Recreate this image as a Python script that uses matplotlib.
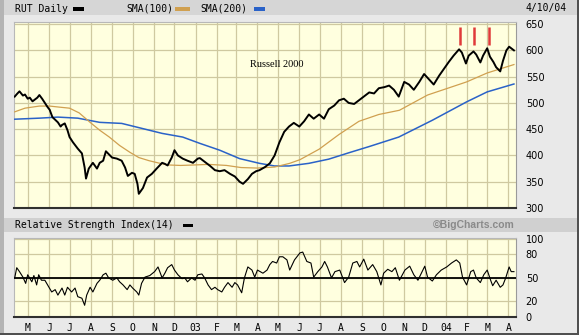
import matplotlib
matplotlib.use('Agg')
import matplotlib.pyplot as plt
import matplotlib.dates as mdates
import numpy as np
import pandas as pd
from matplotlib.patches import Rectangle

# ---------------- data ----------------
price_dates = [
    '2002-04-12', '2002-04-16', '2002-04-19', '2002-04-24', '2002-04-27', '2002-05-01', '2002-05-04',
    '2002-05-08', '2002-05-11', '2002-05-15', '2002-05-18', '2002-05-22', '2002-05-26', '2002-05-30',
    '2002-06-02', '2002-06-06', '2002-06-10', '2002-06-14', '2002-06-18', '2002-06-20', '2002-06-24',
    '2002-06-28', '2002-07-01', '2002-07-06', '2002-07-10', '2002-07-13', '2002-07-19', '2002-07-23',
    '2002-07-25', '2002-07-29', '2002-08-04', '2002-08-10', '2002-08-14', '2002-08-19', '2002-08-23',
    '2002-09-01', '2002-09-08', '2002-09-15', '2002-09-20', '2002-09-24', '2002-09-30', '2002-10-04',
    '2002-10-08', '2002-10-10', '2002-10-16', '2002-10-22', '2002-10-29', '2002-11-05', '2002-11-13',
    '2002-11-17', '2002-11-21', '2002-11-27', '2002-12-01', '2002-12-06', '2002-12-13', '2002-12-20',
    '2002-12-28', '2003-01-04', '2003-01-07', '2003-01-14', '2003-01-22', '2003-01-29', '2003-02-05',
    '2003-02-12', '2003-02-20', '2003-02-27', '2003-03-06', '2003-03-11', '2003-03-18', '2003-03-24',
    '2003-03-30', '2003-04-04', '2003-04-12', '2003-04-19', '2003-04-26', '2003-05-03', '2003-05-10',
    '2003-05-17', '2003-05-24', '2003-06-01', '2003-06-08', '2003-06-15', '2003-06-22', '2003-06-30',
    '2003-07-07', '2003-07-14', '2003-07-22', '2003-07-29', '2003-08-05', '2003-08-12', '2003-08-20',
    '2003-08-27', '2003-09-03', '2003-09-11', '2003-09-18', '2003-09-25', '2003-10-03', '2003-10-10',
    '2003-10-17', '2003-10-24', '2003-11-01', '2003-11-08', '2003-11-15', '2003-11-23', '2003-11-30',
    '2003-12-07', '2003-12-14', '2003-12-22', '2003-12-29', '2004-01-05', '2004-01-12', '2004-01-20',
    '2004-01-24', '2004-01-30', '2004-02-03', '2004-02-10', '2004-02-14', '2004-02-20', '2004-02-24',
    '2004-03-01', '2004-03-05', '2004-03-10', '2004-03-14', '2004-03-20', '2004-03-24', '2004-03-29',
    '2004-04-02', '2004-04-09']
rut_close = [
    512, 518, 522, 514, 516, 508, 510,
    503, 506, 510, 515, 508, 500, 492,
    487, 473, 468, 463, 455, 458, 461,
    448, 435, 425, 418, 413, 404, 377,
    356, 375, 386, 375, 386, 390, 408,
    396, 394, 390, 377, 361, 367, 365,
    346, 327, 338, 358, 365, 375, 386,
    384, 381, 396, 410, 400, 394, 390,
    386, 394, 395, 388, 380, 372, 370,
    372, 365, 360, 350, 346, 355, 365,
    370, 372, 378, 385, 400, 425, 445,
    455, 462, 455, 465, 478, 470, 478,
    470, 488, 495, 505, 508, 500, 498,
    505, 512, 520, 518, 528, 530, 533,
    525, 512, 540, 535, 525, 540, 555,
    545, 535, 552, 565, 578, 590, 602,
    596, 575, 590, 598, 592, 577, 590,
    604, 588, 578, 568, 560, 580, 600,
    607, 600]

sma100_dates = ['2002-04-12', '2002-04-27', '2002-05-18', '2002-06-02', '2002-06-16', '2002-07-01',
                '2002-07-15', '2002-07-31', '2002-08-14', '2002-08-28', '2002-09-12', '2002-09-27',
                '2002-10-10', '2002-10-25', '2002-11-10', '2002-11-20', '2002-12-10', '2003-01-01',
                '2003-01-20', '2003-02-15', '2003-03-08', '2003-04-01', '2003-04-26', '2003-05-18',
                '2003-06-02', '2003-06-30', '2003-07-29', '2003-08-27', '2003-09-25', '2003-10-25',
                '2003-12-05', '2004-01-31', '2004-03-01', '2004-04-09']
sma100 = [483, 490, 494, 494, 492, 490,
          481, 463, 448, 435, 419, 406,
          396, 390, 385, 382, 381, 382,
          383, 381, 377, 376, 378, 385,
          392, 412, 440, 465, 478, 486,
          515, 540, 557, 573]

sma200_dates = ['2002-04-12', '2002-05-18', '2002-06-14', '2002-07-13', '2002-08-14', '2002-09-15',
                '2002-10-13', '2002-11-13', '2002-12-13', '2003-01-07', '2003-02-05', '2003-03-06',
                '2003-04-04', '2003-04-26', '2003-05-17', '2003-06-15', '2003-07-14', '2003-08-12',
                '2003-09-11', '2003-10-24', '2003-12-12', '2004-01-31', '2004-03-01', '2004-04-09']
sma200 = [469, 471, 473, 471, 463, 461,
          452, 442, 435, 423, 410, 394,
          385, 380, 380, 385, 393, 405,
          417, 435, 467, 502, 521, 536]

rsi_dates = [
    '2002-04-12', '2002-04-15', '2002-04-19', '2002-04-24', '2002-04-28', '2002-05-01', '2002-05-07',
    '2002-05-10', '2002-05-14', '2002-05-17', '2002-05-21', '2002-05-26', '2002-05-30', '2002-06-05',
    '2002-06-10', '2002-06-14', '2002-06-20', '2002-06-24', '2002-06-28', '2002-07-04', '2002-07-09',
    '2002-07-13', '2002-07-19', '2002-07-23', '2002-07-26', '2002-07-31', '2002-08-04', '2002-08-10',
    '2002-08-14', '2002-08-19', '2002-08-23', '2002-08-27', '2002-09-02', '2002-09-08', '2002-09-12',
    '2002-09-17', '2002-09-23', '2002-09-27', '2002-10-01', '2002-10-07', '2002-10-10', '2002-10-14',
    '2002-10-19', '2002-10-26', '2002-11-02', '2002-11-07', '2002-11-13', '2002-11-17', '2002-11-21',
    '2002-11-27', '2002-12-01', '2002-12-06', '2002-12-12', '2002-12-16', '2002-12-20', '2002-12-26',
    '2002-12-31', '2003-01-04', '2003-01-10', '2003-01-14', '2003-01-19', '2003-01-24', '2003-01-29',
    '2003-02-02', '2003-02-08', '2003-02-12', '2003-02-17', '2003-02-23', '2003-02-27', '2003-03-03',
    '2003-03-09', '2003-03-13', '2003-03-18', '2003-03-24', '2003-03-28', '2003-04-01', '2003-04-09',
    '2003-04-15', '2003-04-19', '2003-04-23', '2003-04-29', '2003-05-03', '2003-05-08', '2003-05-14',
    '2003-05-18', '2003-05-25', '2003-06-02', '2003-06-06', '2003-06-12', '2003-06-18', '2003-06-22',
    '2003-06-28', '2003-07-04', '2003-07-08', '2003-07-12', '2003-07-18', '2003-07-23', '2003-07-30',
    '2003-08-06', '2003-08-12', '2003-08-18', '2003-08-24', '2003-08-28', '2003-09-03', '2003-09-09',
    '2003-09-16', '2003-09-22', '2003-09-28', '2003-10-02', '2003-10-08', '2003-10-14', '2003-10-19',
    '2003-10-25', '2003-11-02', '2003-11-09', '2003-11-15', '2003-11-21', '2003-11-26', '2003-12-01',
    '2003-12-05', '2003-12-12', '2003-12-18', '2003-12-25', '2004-01-02', '2004-01-09', '2004-01-16',
    '2004-01-21', '2004-01-25', '2004-01-31', '2004-02-06', '2004-02-10', '2004-02-14', '2004-02-20',
    '2004-02-25', '2004-03-01', '2004-03-06', '2004-03-09', '2004-03-14', '2004-03-20', '2004-03-24',
    '2004-03-28', '2004-04-02', '2004-04-05', '2004-04-09']
rsi14 = [
    50, 63, 58, 51, 43, 54, 45,
    53, 41, 54, 47, 47, 41, 32,
    35, 28, 37, 28, 38, 32, 37,
    26, 24, 15, 28, 38, 32, 43,
    47, 54, 56, 50, 47, 50, 45,
    41, 35, 41, 37, 32, 28, 43,
    51, 53, 58, 64, 50, 56, 63,
    67, 60, 54, 49, 50, 45, 50,
    47, 54, 55, 50, 41, 35, 38,
    35, 32, 38, 44, 38, 44, 41,
    31, 50, 64, 60, 51, 60, 56,
    60, 67, 71, 69, 77, 77, 73,
    60, 73, 82, 83, 71, 69, 51,
    58, 64, 71, 64, 50, 58, 60,
    44, 51, 69, 71, 64, 74, 60,
    67, 58, 41, 56, 61, 58, 63,
    47, 60, 65, 54, 47, 56, 65,
    51, 46, 54, 60, 64, 69, 73,
    69, 51, 41, 58, 60, 50, 44,
    54, 60, 47, 40, 47, 38, 41,
    50, 64, 58, 58]

signal_dates = ['2004-01-22', '2004-02-11', '2004-03-03']
signal_low, signal_high = 610, 644

price_ticks = [300, 350, 400, 450, 500, 550, 600, 650]
rsi_ticks = [0, 20, 50, 80, 100]
month_labels = ['M', 'J', 'J', 'A', 'S', 'O', 'N', 'D', '03', 'F', 'M', 'A',
                'M', 'J', 'J', 'A', 'S', 'O', 'N', 'D', '04', 'F', 'M', 'A']
month_starts = pd.date_range('2002-05-01', '2004-04-01', freq='MS')

# ---------------- figure ----------------
W, H = 579, 335
fig = plt.figure(figsize=(W / 100, H / 100), dpi=100)
fig.patch.set_facecolor('#e9e9e9')

def rect(x, y, w, h, color, z=0):
    fig.add_artist(Rectangle((x / W, 1 - (y + h) / H), w / W, h / H,
                             transform=fig.transFigure, facecolor=color,
                             edgecolor='none', zorder=z))

rect(0, 0, W, 15, '#d6d6d6')          # top header band
rect(0, 218, W, 14, '#d0d0d0')        # RSI header band
rect(0, 0, 4, H, '#b4b4b4')           # left bevel
rect(W - 2, 0, 2, H, '#505050')       # right border
rect(0, H - 2, W, 2, '#505050')       # bottom border

BG = '#ffffdf'
GRID = '#cfc9a0'

xmin, xmax = pd.Timestamp('2002-04-11'), pd.Timestamp('2004-04-12')

ax = fig.add_axes([14 / W, 1 - 208 / H, 502 / W, 186 / H])
ax2 = fig.add_axes([14 / W, 1 - 317 / H, 502 / W, 79 / H])

for a in (ax, ax2):
    a.set_facecolor(BG)
    a.set_xlim(xmin, xmax)
    a.set_xticks(month_starts)
    a.grid(True, color=GRID, lw=0.9)
    a.set_axisbelow(True)
    a.yaxis.tick_right()
    a.tick_params(length=0, labelsize=7, pad=7)
    for s in ('left', 'top'):
        a.spines[s].set_color('#b8b8b8')
        a.spines[s].set_linewidth(0.8)
    a.spines['right'].set_color('#9a9a9a')
    a.spines['right'].set_linewidth(0.8)
    a.spines['bottom'].set_color('#303030')
    a.spines['bottom'].set_linewidth(1.5)

ax.set_xticklabels([])
ax2.set_xticklabels(month_labels, family='DejaVu Sans Mono', fontsize=7)
ax2.tick_params(axis='x', pad=4)

# price panel
pdates = pd.to_datetime(price_dates)
ax.plot(pd.to_datetime(sma200_dates), sma200, color='#2a62c8', lw=1.1, zorder=3)
ax.plot(pd.to_datetime(sma100_dates), sma100, color='#d0a050', lw=0.9, zorder=3)
ax.plot(pdates, rut_close, color='black', lw=1.4, zorder=4)
ax.vlines(pd.to_datetime(signal_dates), signal_low, signal_high, color='#e03a3a', lw=1.8, zorder=4)
ax.set_ylim(300, 654)
ax.set_yticks(price_ticks)
ax.set_yticklabels([str(t) for t in price_ticks])
ax.text(0.524, 0.77, 'Russell 2000', transform=ax.transAxes, ha='center', va='center',
        family='Liberation Serif', fontsize=7.5)

# RSI panel
ax2.plot(pd.to_datetime(rsi_dates), rsi14, color='black', lw=0.8, zorder=4)
ax2.axhline(50, color='black', lw=1.3, zorder=3)
ax2.set_ylim(0, 101)
ax2.set_yticks(rsi_ticks)
ax2.set_yticklabels([str(t) for t in rsi_ticks])

# header texts
def ftext(x, y, s, **kw):
    fig.text(x / W, 1 - y / H, s, va='center', **kw)

mono = dict(family='DejaVu Sans Mono', fontsize=7, color='black')
ftext(15, 8.5, 'RUT Daily', **mono)
rect(73, 7, 11, 3.5, 'black', 5)
ftext(126, 8.5, 'SMA(100)', **mono)
rect(175, 7, 15, 3.5, '#d0a050', 5)
ftext(200, 8.5, 'SMA(200)', **mono)
rect(254, 7, 11, 3.5, '#2a62c8', 5)
ftext(567, 8.5, '4/10/04', ha='right', **mono)

ftext(15, 225, 'Relative Strength Index(14)', **mono)
rect(183, 223.5, 10, 3.5, 'black', 5)
ftext(515, 225, '\u00a9BigCharts.com', ha='right', family='Liberation Sans',
      fontsize=7.5, fontweight='bold', color='#8a8a8a')

fig.savefig('out.png', dpi=100, facecolor=fig.get_facecolor())
